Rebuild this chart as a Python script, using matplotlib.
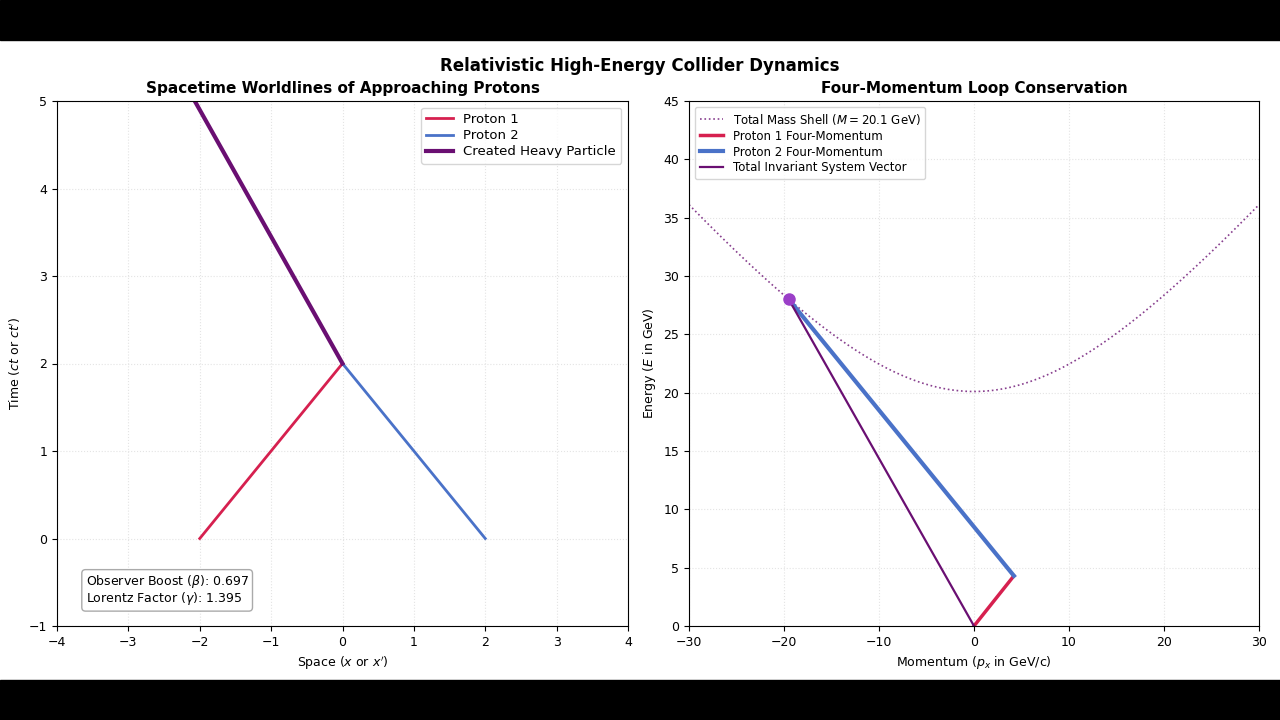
import numpy as np
import matplotlib.pyplot as plt
from matplotlib.patches import Rectangle

# worldlines (x, ct)
p1_x = [-2.0, 0.0]
p1_t = [0.0, 2.0]
p2_x = [2.0, 0.0]
p2_t = [0.0, 2.0]
heavy_x = [0.0, -2.07]
heavy_t = [2.0, 5.0]
beta = 0.697
gamma = 1.395

# four-momenta (px, E)
mass = 20.1
p1_px = [0.0, 4.2]
p1_E = [0.0, 4.3]
p2_px = [4.2, -19.5]
p2_E = [4.3, 28.0]
tot_px = [0.0, -19.5]
tot_E = [0.0, 28.0]

red = '#d6204f'
blue = '#4a72c8'
purple = '#6a0f72'

plt.rcParams['font.size'] = 9

fig = plt.figure(figsize=(12.8, 7.2), dpi=100)
fig.patches.append(Rectangle((0, 0), 1, 40/720, transform=fig.transFigure, color='black', zorder=-1))
fig.patches.append(Rectangle((0, 680/720), 1, 40/720, transform=fig.transFigure, color='black', zorder=-1))
fig.text(0.5, 1 - 66/720, 'Relativistic High-Energy Collider Dynamics', ha='center', va='center',
         fontsize=12, fontweight='bold')

ax1 = fig.add_axes([57/1280, 1 - 626/720, 571/1280, 525/720])
ax2 = fig.add_axes([689/1280, 1 - 626/720, 570/1280, 525/720])

ax1.plot(p1_x, p1_t, color=red, lw=2, label='Proton 1')
ax1.plot(p2_x, p2_t, color=blue, lw=2, label='Proton 2')
ax1.plot(heavy_x, heavy_t, color=purple, lw=3, label='Created Heavy Particle')
ax1.set_xlim(-4, 4)
ax1.set_ylim(-1, 5)
ax1.grid(True, ls=':', color='#e4e4e4')
ax1.set_xlabel("Space ($x$ or $x'$)")
ax1.set_ylabel("Time ($ct$ or $ct'$)")
ax1.set_title('Spacetime Worldlines of Approaching Protons', fontweight='bold', fontsize=11)
ax1.legend(loc='upper right', fontsize=9.5, labelspacing=0.25)
ax1.text(0.05, 0.045, f'Observer Boost ($\\beta$): {beta:.3f}\nLorentz Factor ($\\gamma$): {gamma:.3f}',
         transform=ax1.transAxes, fontsize=9, linespacing=1.0,
         bbox=dict(boxstyle='round,pad=0.3', facecolor='white', edgecolor='#aaaaaa'))

px = np.linspace(-30, 30, 300)
ax2.plot(px, np.sqrt(mass**2 + px**2), ls=':', color=purple, lw=1.2, alpha=0.8,
         label=f'Total Mass Shell ($M = {mass}$ GeV)')
ax2.plot(p1_px, p1_E, color=red, lw=2.5, label='Proton 1 Four-Momentum')
ax2.plot(p2_px, p2_E, color=blue, lw=3, label='Proton 2 Four-Momentum')
ax2.plot(tot_px, tot_E, color=purple, lw=1.6, label='Total Invariant System Vector')
ax2.plot(tot_px[-1], tot_E[-1], 'o', color='#9b3fc8', ms=8)
ax2.set_xlim(-30, 30)
ax2.set_ylim(0, 45)
ax2.grid(True, ls=':', color='#e4e4e4')
ax2.set_xlabel('Momentum ($p_x$ in GeV/c)')
ax2.set_ylabel('Energy ($E$ in GeV)')
ax2.set_title('Four-Momentum Loop Conservation', fontweight='bold', fontsize=11)
ax2.legend(loc='upper left', fontsize=8.5, labelspacing=0.25)

fig.savefig('out.png', dpi=100)
